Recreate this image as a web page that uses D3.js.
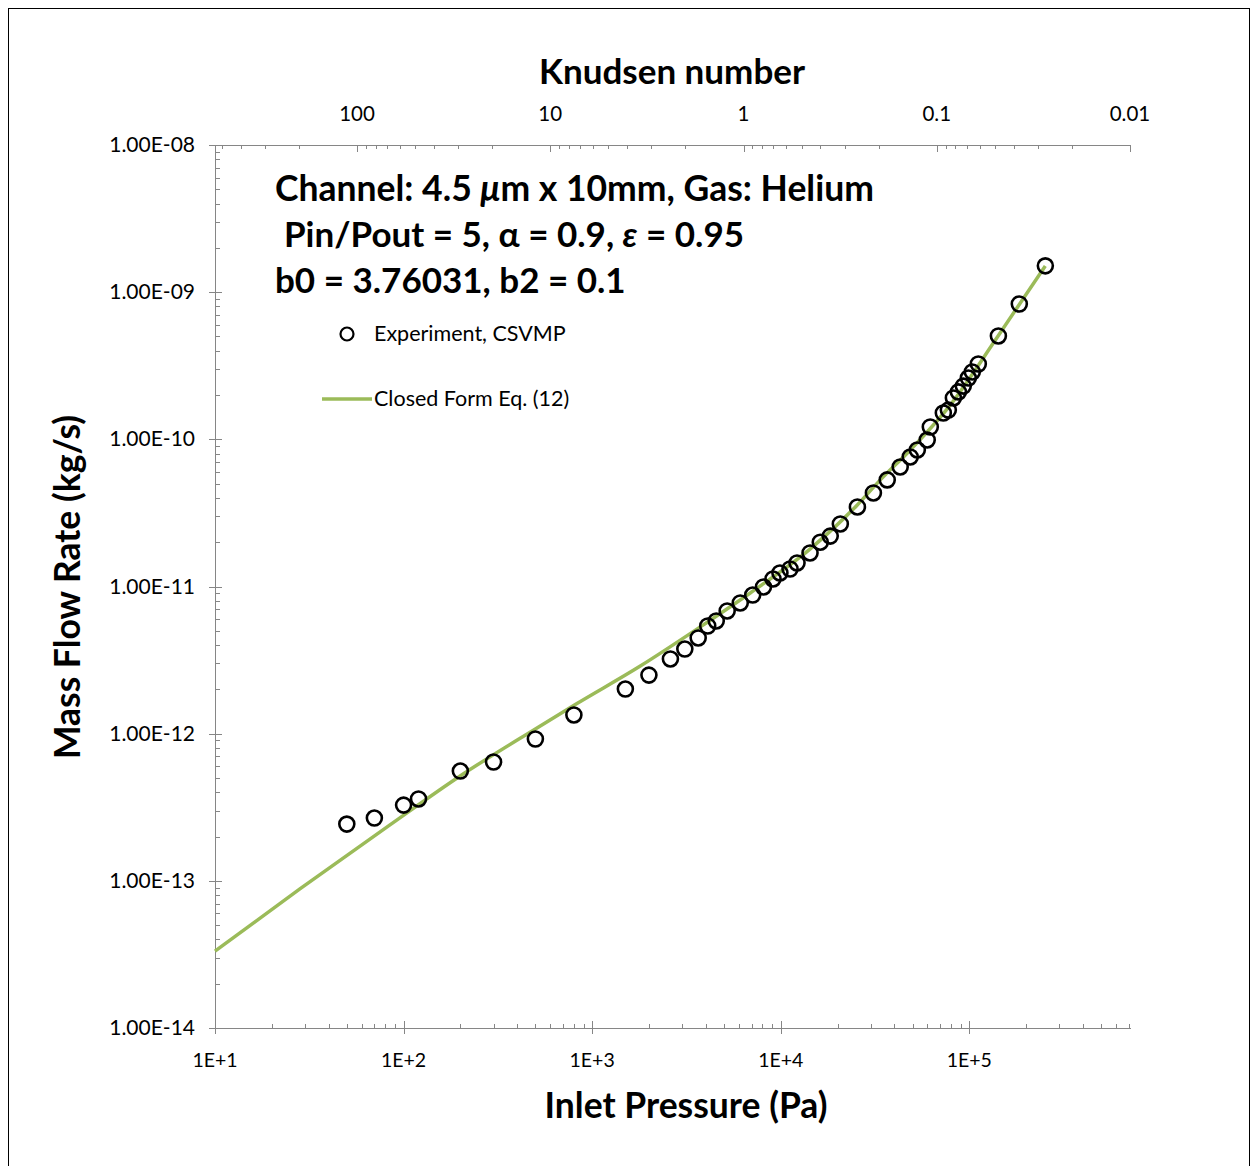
<!DOCTYPE html>
<html>
<head>
<meta charset="utf-8">
<script src="https://cdn.jsdelivr.net/npm/d3@7"></script>
<style>
  body { margin: 0; background: #fff; }
  svg { display: block; }
  text { font-family: Lato, "Open Sans", sans-serif; fill: #000; }
</style>
</head>
<body>
<svg width="1257" height="1166"></svg>
<script>
// Experiment, CSVMP (inlet pressure in Pa, mass flow rate in kg/s)
var expPressure = [50, 70, 100, 120, 200, 300, 500, 800, 1500, 2000, 2600, 3100, 3650, 4100, 4550,
    5200, 6100, 7100, 8100, 9100, 9900, 11200, 12200, 14300, 16200, 18300, 20700, 25500, 31000,
    36700, 43000, 48600, 53000, 59800, 62100, 72800, 77400, 82300, 87500, 92900, 98800, 103700,
    111600, 142600, 184100, 253000];
var expMassFlow = [2.43e-13, 2.67e-13, 3.27e-13, 3.60e-13, 5.57e-13, 6.42e-13, 9.2e-13, 1.34e-12,
    2.01e-12, 2.5e-12, 3.22e-12, 3.76e-12, 4.47e-12, 5.39e-12, 5.83e-12, 6.82e-12, 7.73e-12,
    8.75e-12, 9.93e-12, 1.125e-11, 1.236e-11, 1.315e-11, 1.445e-11, 1.69e-11, 2.0e-11, 2.2e-11,
    2.66e-11, 3.47e-11, 4.32e-11, 5.3e-11, 6.49e-11, 7.59e-11, 8.47e-11, 9.9e-11, 1.213e-10,
    1.51e-10, 1.58e-10, 1.91e-10, 2.1e-10, 2.3e-10, 2.61e-10, 2.87e-10, 3.25e-10, 5.04e-10,
    8.31e-10, 1.51e-9];

// Closed Form Eq. (12)
var curvePressure = [10, 28.2, 84.7, 199.5, 510, 822, 1800, 3740, 6890, 14340, 25470, 33730,
    48650, 79200, 140900, 253000];
var curveMassFlow = [3.33e-14, 8.81e-14, 2.40e-13, 5.16e-13, 1.094e-12, 1.59e-12, 2.88e-12,
    5.31e-12, 9.04e-12, 1.80e-11, 3.58e-11, 5.3e-11, 8.47e-11, 1.71e-10, 4.96e-10, 1.507e-9];

// tick labels
var xTicks = [1e1, 1e2, 1e3, 1e4, 1e5];
var xTickLabels = ["1E+1", "1E+2", "1E+3", "1E+4", "1E+5"];
var yTicks = [1e-14, 1e-13, 1e-12, 1e-11, 1e-10, 1e-9, 1e-8];
var yTickLabels = ["1.00E-14", "1.00E-13", "1.00E-12", "1.00E-11", "1.00E-10", "1.00E-09", "1.00E-08"];
var knTicks = [100, 10, 1, 0.1, 0.01];
var knTickLabels = ["100", "10", "1", "0.1", "0.01"];

var svg = d3.select("svg");

// outer frame
svg.append("rect")
    .attr("x", 8.5).attr("y", 8.5)
    .attr("width", 1241).attr("height", 1180)
    .attr("fill", "none").attr("stroke", "#000").attr("stroke-width", 1);

var pLeft = 215, pRight = 1131, pTop = 145, pBottom = 1028;

var x = d3.scaleLog().domain([10, 7.2e5]).range([pLeft, pRight]);
var y = d3.scaleLog().domain([1e-14, 1e-8]).range([pBottom, pTop]);
var kn = d3.scaleLog().domain([543, 0.01]).range([pLeft, 1130]);

var axisColor = "#868686";

// minor ticks 2..9 in each decade
function minors(lo, hi) {
    var out = [];
    for (var e = lo; e < hi; e++) {
        for (var k = 2; k <= 9; k++) out.push(k * Math.pow(10, e));
    }
    return out;
}

// ---- bottom axis
var gx = svg.append("g");
gx.append("line").attr("x1", pLeft).attr("x2", pRight).attr("y1", pBottom + 0.5).attr("y2", pBottom + 0.5)
    .attr("stroke", axisColor);
gx.selectAll(".minor").data(minors(1, 6).filter(function(d) { return d <= 7.2e5; }))
    .enter().append("line")
    .attr("x1", function(d) { return Math.round(x(d)) + 0.5; })
    .attr("x2", function(d) { return Math.round(x(d)) + 0.5; })
    .attr("y1", pBottom - 4).attr("y2", pBottom)
    .attr("stroke", axisColor);
gx.selectAll(".major").data(xTicks)
    .enter().append("line")
    .attr("x1", function(d) { return Math.round(x(d)) + 0.5; })
    .attr("x2", function(d) { return Math.round(x(d)) + 0.5; })
    .attr("y1", pBottom - 7).attr("y2", pBottom + 6)
    .attr("stroke", axisColor);
gx.selectAll(".lbl").data(xTicks)
    .enter().append("text")
    .attr("x", function(d) { return x(d); })
    .attr("y", 1067)
    .attr("text-anchor", "middle")
    .style("font-size", "19.5px")
    .text(function(d, i) { return xTickLabels[i]; });

// ---- left axis
var gy = svg.append("g");
gy.append("line").attr("x1", pLeft + 0.5).attr("x2", pLeft + 0.5).attr("y1", pTop).attr("y2", pBottom)
    .attr("stroke", axisColor);
gy.selectAll(".minor").data(minors(-14, -8))
    .enter().append("line")
    .attr("y1", function(d) { return Math.round(y(d)) + 0.5; })
    .attr("y2", function(d) { return Math.round(y(d)) + 0.5; })
    .attr("x1", pLeft).attr("x2", pLeft + 5)
    .attr("stroke", axisColor);
gy.selectAll(".major").data(yTicks)
    .enter().append("line")
    .attr("y1", function(d) { return Math.round(y(d)) + 0.5; })
    .attr("y2", function(d) { return Math.round(y(d)) + 0.5; })
    .attr("x1", pLeft - 6).attr("x2", pLeft + 7)
    .attr("stroke", axisColor);
gy.selectAll(".lbl").data(yTicks)
    .enter().append("text")
    .attr("x", 195)
    .attr("y", function(d) { return y(d) + 7; })
    .attr("text-anchor", "end")
    .style("font-size", "21px")
    .text(function(d, i) { return yTickLabels[i]; });

// ---- top axis (Knudsen number, reversed)
var gk = svg.append("g");
gk.append("line").attr("x1", pLeft).attr("x2", 1131).attr("y1", pTop + 0.5).attr("y2", pTop + 0.5)
    .attr("stroke", axisColor);
gk.selectAll(".minor").data(minors(-2, 3).filter(function(d) { return d <= 543; }))
    .enter().append("line")
    .attr("x1", function(d) { return Math.round(kn(d)) + 0.5; })
    .attr("x2", function(d) { return Math.round(kn(d)) + 0.5; })
    .attr("y1", pTop).attr("y2", pTop + 4)
    .attr("stroke", axisColor);
gk.selectAll(".major").data(knTicks)
    .enter().append("line")
    .attr("x1", function(d) { return Math.round(kn(d)) + 0.5; })
    .attr("x2", function(d) { return Math.round(kn(d)) + 0.5; })
    .attr("y1", pTop).attr("y2", pTop + 7)
    .attr("stroke", axisColor);
gk.selectAll(".lbl").data(knTicks)
    .enter().append("text")
    .attr("x", function(d) { return kn(d); })
    .attr("y", 121)
    .attr("text-anchor", "middle")
    .style("font-size", "20.5px")
    .text(function(d, i) { return knTickLabels[i]; });

// ---- axis titles
svg.append("text").attr("x", 672).attr("y", 84).attr("text-anchor", "middle")
    .style("font-size", "35px").style("font-weight", "bold").text("Knudsen number");
svg.append("text").attr("x", 686).attr("y", 1118).attr("text-anchor", "middle")
    .style("font-size", "35.5px").style("font-weight", "bold").text("Inlet Pressure (Pa)");
svg.append("text").attr("transform", "translate(80,587) rotate(-90)").attr("text-anchor", "middle")
    .style("font-size", "35.5px").style("font-weight", "bold").text("Mass Flow Rate (kg/s)");

// ---- annotation
var note = svg.append("g").style("font-size", "35px").style("font-weight", "bold");
var t1 = note.append("text").attr("x", 275).attr("y", 201).style("font-size", "35.5px");
t1.append("tspan").text("Channel: 4.5 ");
t1.append("tspan").style("font-style", "italic").text("\u03bc");
t1.append("tspan").text("m x 10mm, Gas: Helium");
var t2 = note.append("text").attr("x", 284).attr("y", 247);
t2.append("tspan").text("Pin/Pout = 5, \u03b1 = 0.9, ");
t2.append("tspan").style("font-style", "italic").text("\u03b5");
t2.append("tspan").text(" = 0.95");
note.append("text").attr("x", 275).attr("y", 293).text("b0 = 3.76031, b2 = 0.1");

// ---- closed form line
var line = d3.line()
    .curve(d3.curveMonotoneX)
    .x(function(d) { return x(d[0]); })
    .y(function(d) { return y(d[1]); });

svg.append("path")
    .datum(curvePressure.map(function(p, i) { return [p, curveMassFlow[i]]; }))
    .attr("fill", "none")
    .attr("stroke", "#9BBB59")
    .attr("stroke-width", 3.5)
    .attr("d", line);

// ---- experiment markers
svg.append("g").selectAll("circle")
    .data(expPressure.map(function(p, i) { return [p, expMassFlow[i]]; }))
    .enter().append("circle")
    .attr("cx", function(d) { return x(d[0]); })
    .attr("cy", function(d) { return y(d[1]); })
    .attr("r", 7.5)
    .attr("fill", "none")
    .attr("stroke", "#000")
    .attr("stroke-width", 2.6);

// ---- legend
var leg = svg.append("g").style("font-size", "21.5px");
leg.append("circle").attr("cx", 347).attr("cy", 334).attr("r", 6.5)
    .attr("fill", "none").attr("stroke", "#000").attr("stroke-width", 2.2);
leg.append("text").attr("x", 374).attr("y", 341).text("Experiment, CSVMP");
leg.append("line").attr("x1", 322).attr("x2", 372).attr("y1", 399).attr("y2", 399)
    .attr("stroke", "#9BBB59").attr("stroke-width", 3.5);
leg.append("text").attr("x", 374).attr("y", 406).text("Closed Form Eq. (12)");
</script>
</body>
</html>
